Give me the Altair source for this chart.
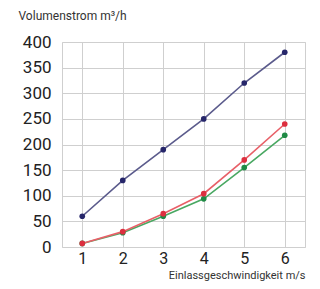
import altair as alt
import pandas as pd

speeds = [1, 2, 3, 4, 5, 6]
series_a = [60, 130, 190, 250, 320, 380]   # blue
series_b = [7, 30, 65, 104, 170, 240]      # red
series_c = [7, 28, 60, 94, 155, 218]       # green
series_names = ["A", "C", "B"]
y_ticks = [0, 50, 100, 150, 200, 250, 300, 350, 400]

rows = []
for name, vals in (("A", series_a), ("C", series_c), ("B", series_b)):
    for s, v in zip(speeds, vals):
        rows.append({"speed": s, "value": v, "series": name})
df = pd.DataFrame(rows)

FONT = "Roboto"

x = alt.X("speed:O", scale=alt.Scale(paddingInner=0, paddingOuter=0),
          axis=alt.Axis(title="Einlassgeschwindigkeit m/s", labelAngle=0,
                        labelFontSize=16, labelPadding=3, ticks=False, domain=False,
                        grid=True, bandPosition=0, gridColor="#cfcfcf",
                        labelColor="#222", labelFont=FONT,
                        titleFont=FONT, titleFontSize=11, titleFontWeight="normal",
                        titleColor="#333", titleAnchor="end", titleAlign="right",
                        titleX=243, titleY=31, titleBaseline="alphabetic"))
y = alt.Y("value:Q", scale=alt.Scale(domain=[0, 400], nice=False),
          axis=alt.Axis(values=y_ticks, title="Volumenstrom m³/h", titleAngle=0,
                        titleAlign="left", titleX=-44, titleY=-27, titleBaseline="middle",
                        titleFont=FONT, titleFontSize=12, titleFontWeight="normal",
                        titleColor="#333",
                        labelFontSize=17, labelPadding=11, ticks=False, domain=False,
                        gridColor="#cfcfcf", labelColor="#222", labelFont=FONT))

lines = alt.Chart(df).mark_line(strokeWidth=1.6).encode(
    x=x, y=y,
    color=alt.Color("series:N", sort=series_names, legend=None,
                    scale=alt.Scale(domain=series_names,
                                    range=["#5b5b8c", "#49a862", "#e86068"])),
    detail="series:N",
)
points = alt.Chart(df).mark_point(filled=True, size=32, opacity=1).encode(
    x=x, y=y,
    color=alt.Color("series:N", legend=None,
                    scale=alt.Scale(domain=series_names,
                                    range=["#26266a", "#1f8a45", "#dd2f3f"])),
)

chart = alt.layer(lines, points).resolve_scale(color="independent").properties(
    width=243, height=205,
    autosize=alt.AutoSizeParams(type="none"),
    padding={"left": 54, "top": 34, "right": 7, "bottom": 34},
).configure_view(stroke="#cfcfcf", strokeWidth=1)

chart.save("out.html", embed_options={"renderer": "svg", "actions": False})
